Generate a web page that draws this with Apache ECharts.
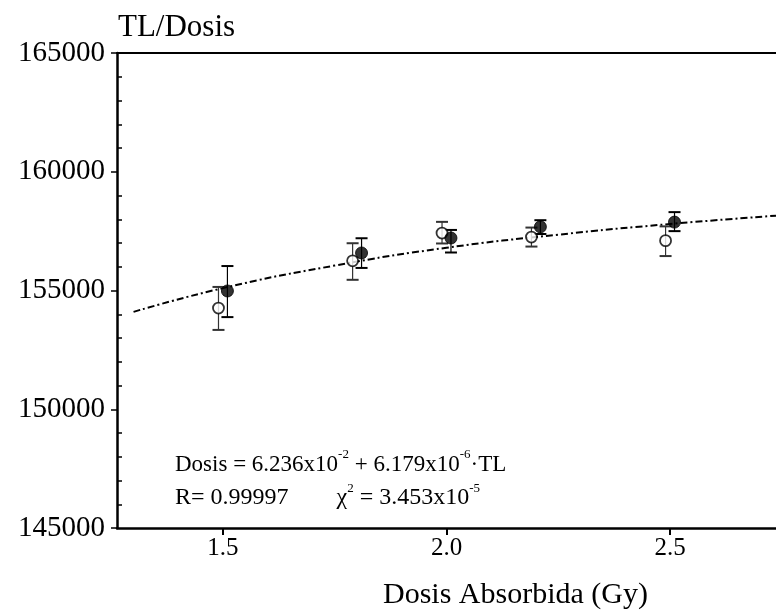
<!DOCTYPE html>
<html>
<head>
<meta charset="utf-8">
<script src="https://cdn.jsdelivr.net/npm/echarts@6/dist/echarts.min.js"></script>
<style>
html,body{margin:0;padding:0;background:#fff;}
#chart{width:776px;height:611px;}
</style>
</head>
<body>
<div id="chart"></div>
<script>
// ---- data ----
const openX      = [1.49, 1.79, 1.99, 2.19, 2.49];
const openY      = [154260, 156250, 157420, 157250, 157100];
const openLow    = [153340, 155450, 156980, 156850, 156450];
const openHigh   = [155150, 156990, 157890, 157650, 157700];

const filledX    = [1.51, 1.81, 2.01, 2.21, 2.51];
const filledY    = [154980, 156580, 157210, 157680, 157880];
const filledLow  = [153880, 155950, 156600, 157380, 157500];
const filledHigh = [156030, 157200, 157550, 157960, 158300];

const fitX = [1.30, 1.50, 1.75, 2.00, 2.25, 2.50, 2.737];
const fitY = [154100, 155100, 156050, 156800, 157350, 157800, 158150];

const xTicks = [1.5, 2.0, 2.5];
const yTicks = [145000, 150000, 155000, 160000, 165000];

const X_MIN = 1.263, X_MAX = 2.737;
const Y_MIN = 145000, Y_MAX = 165000;

const SERIF = '"Liberation Serif", "DejaVu Serif", serif';

function pairs(xs, ys){ return xs.map((x,i)=>[x, ys[i]]); }
function errData(xs, lo, hi){ return xs.map((x,i)=>[x, lo[i], hi[i]]); }

function errRender(color){
  return function(params, api){
    const x = api.value(0);
    const lo = api.coord([x, api.value(1)]);
    const hi = api.coord([x, api.value(2)]);
    const half = 6;
    return {
      type: 'group',
      children: [
        {type:'line', shape:{x1:lo[0], y1:lo[1], x2:hi[0], y2:hi[1]}, style: {stroke: color, lineWidth: 1.2}},
        {type:'line', shape:{x1:lo[0]-half, y1:lo[1], x2:lo[0]+half, y2:lo[1]}, style: {stroke: color, lineWidth: 2}},
        {type:'line', shape:{x1:hi[0]-half, y1:hi[1], x2:hi[0]+half, y2:hi[1]}, style: {stroke: color, lineWidth: 2}}
      ]
    };
  };
}

const supStyle = {fontFamily: SERIF, fontSize: 13, fill: '#000', verticalAlign: 'top', lineHeight: 28, padding:[0,0,14,0]};
const txtStyle1 = {fontFamily: SERIF, fontSize: 23, fill: '#000', verticalAlign: 'bottom', lineHeight: 28};
const txtStyle2 = {fontFamily: SERIF, fontSize: 24, fill: '#000', verticalAlign: 'bottom', lineHeight: 28};

const chart = echarts.init(document.getElementById('chart'), null, {renderer:'canvas'});
chart.setOption({
  animation: false,
  backgroundColor: '#fff',
  grid: {left: 117, top: 53, right: 0, bottom: 83, containLabel: false},
  title: [
    {text: 'TL/Dosis', left: 113, top: 7,
     textStyle: {fontFamily: SERIF, fontSize: 31, fontWeight: 'normal', color: '#000'}},
    {text: 'Dosis Absorbida (Gy)', left: 378, top: 575,
     textStyle: {fontFamily: SERIF, fontSize: 30, fontWeight: 'normal', color: '#000'}}
  ],
  graphic: [
    {type: 'text', left: 175, top: 448, style: {
      text: '{t|Dosis = 6.236x10}{s|-2}{t| + 6.179x10}{s|-6}{t|·TL}',
      rich: {t: txtStyle1, s: supStyle}
    }},
    {type: 'text', left: 175, top: 482, style: {
      text: '{t|R= 0.99997}{g|        }{t|χ}{s|2}{t| = 3.453x10}{s|-5}',
      rich: {t: txtStyle2, g: {fontFamily: SERIF, fontSize: 24, lineHeight: 28}, s: supStyle}
    }}
  ],
  xAxis: [
    {type: 'value', min: X_MIN, max: X_MAX, position: 'bottom',
     axisLine: {show: true, lineStyle: {color: '#000', width: 2.5}},
     axisTick: {show: true, customValues: xTicks, length: 7, lineStyle: {color: '#000', width: 2}},
     axisLabel: {show: true, customValues: xTicks, formatter: v => Number(v).toFixed(1),
                 fontFamily: SERIF, fontSize: 25, color: '#000', margin: 8},
     splitLine: {show: false}},
    {type: 'value', min: X_MIN, max: X_MAX, position: 'top',
     axisLine: {show: true, lineStyle: {color: '#000', width: 2}},
     axisTick: {show: false}, axisLabel: {show: false}, splitLine: {show: false}}
  ],
  yAxis: [
    {type: 'value', min: Y_MIN, max: Y_MAX, interval: 5000, position: 'left',
     axisLine: {show: true, lineStyle: {color: '#000', width: 2.5}},
     axisTick: {show: true, length: 6, lineStyle: {color: '#000', width: 1.5}},
     minorTick: {show: false},
     axisLabel: {show: true, fontFamily: SERIF, fontSize: 29, color: '#000', margin: 12,
                 formatter: v => String(v)},
     splitLine: {show: false}},
    {type: 'value', min: Y_MIN, max: Y_MAX, interval: 5000, position: 'left',
     axisLine: {show: false},
     axisTick: {show: false, inside: true, length: 6},
     minorTick: {show: true, splitNumber: 5, length: 5, lineStyle: {color: '#000', width: 1.5}},
     axisLabel: {show: false},
     splitLine: {show: false}}
  ],
  series: [
    {type: 'line', name: 'fit', data: pairs(fitX, fitY), smooth: true, showSymbol: false,
     lineStyle: {color: '#000', width: 2, type: [7, 3, 2, 3]}, z: 2},
    {type: 'custom', name: 'errOpen', data: errData(openX, openLow, openHigh),
     renderItem: errRender('#333'), z: 3},
    {type: 'custom', name: 'errFilled', data: errData(filledX, filledLow, filledHigh),
     renderItem: errRender('#000'), z: 3},
    {type: 'scatter', name: 'open', data: pairs(openX, openY), symbol: 'circle', symbolSize: 11,
     itemStyle: {color: '#fff', borderColor: '#000', borderWidth: 1.8}, z: 5},
    {type: 'scatter', name: 'filled', data: pairs(filledX, filledY), symbol: 'circle', symbolSize: 12,
     itemStyle: {color: '#000', borderColor: '#000', borderWidth: 1}, z: 5}
  ]
});
</script>
</body>
</html>
